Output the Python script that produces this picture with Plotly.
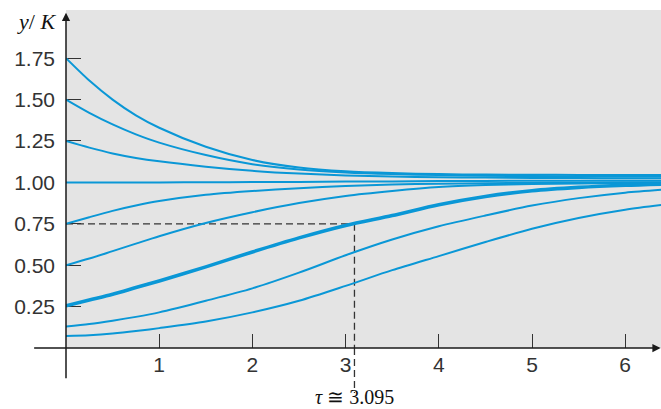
import plotly.graph_objects as go

t = [0, 0.25, 0.5, 0.75, 1, 1.5, 2, 2.5, 3, 3.5, 4, 4.5, 5, 5.5, 6, 6.4]

# y/K solution curves
y_175 = [1.75, 1.615, 1.50, 1.405, 1.33, 1.215, 1.135, 1.09, 1.067, 1.056, 1.05, 1.047, 1.046, 1.045, 1.045, 1.045]
y_150 = [1.50, 1.42, 1.35, 1.29, 1.24, 1.165, 1.11, 1.078, 1.06, 1.05, 1.044, 1.04, 1.038, 1.036, 1.035, 1.035]
y_125 = [1.25, 1.21, 1.175, 1.148, 1.127, 1.095, 1.07, 1.053, 1.042, 1.035, 1.031, 1.029, 1.027, 1.026, 1.025, 1.025]
y_100 = [1.0, 1.0, 1.0, 1.0, 1.0, 1.001, 1.002, 1.003, 1.005, 1.006, 1.008, 1.009, 1.01, 1.01, 1.01, 1.01]
y_075 = [0.75, 0.79, 0.828, 0.86, 0.887, 0.925, 0.948, 0.965, 0.978, 0.987, 0.992, 0.995, 0.997, 0.998, 0.999, 1.0]
y_050 = [0.50, 0.54, 0.585, 0.63, 0.675, 0.755, 0.82, 0.875, 0.918, 0.948, 0.972, 0.984, 0.99, 0.994, 0.997, 0.998]
y_025 = [0.255, 0.29, 0.325, 0.365, 0.405, 0.49, 0.58, 0.665, 0.74, 0.80, 0.865, 0.915, 0.95, 0.97, 0.983, 0.99]
y_013 = [0.13, 0.145, 0.165, 0.188, 0.215, 0.285, 0.36, 0.455, 0.56, 0.655, 0.735, 0.80, 0.86, 0.905, 0.938, 0.956]
y_007 = [0.072, 0.077, 0.087, 0.102, 0.12, 0.16, 0.215, 0.285, 0.375, 0.47, 0.555, 0.64, 0.72, 0.785, 0.835, 0.864]

thin_curves = [y_175, y_150, y_125, y_100, y_075, y_050, y_013, y_007]
thick_curve = y_025

x_ticks = [1, 2, 3, 4, 5, 6]
x_tick_labels = ["1", "2", "3", "4", "5", "6"]
y_ticks = [0.25, 0.5, 0.75, 1.0, 1.25, 1.5, 1.75]
y_tick_labels = ["0.25", "0.50", "0.75", "1.00", "1.25", "1.50", "1.75"]

tau = 3.095
tau_level = 0.75

BLUE = "#0a97d6"
AX = "#1a1a1a"

W, H = 661, 409
ML, MR, MT, MB = 66, 0, 10, 61
PW, PH = W - ML - MR, H - MT - MB


def px(xp):
    return (xp - ML) / PW


def py(yp):
    return (H - MB - yp) / PH


fig = go.Figure()
for ys in thin_curves:
    fig.add_trace(go.Scatter(x=t, y=ys, mode="lines",
                             line=dict(color=BLUE, width=2, shape="spline", smoothing=0.8),
                             hoverinfo="skip", showlegend=False))
fig.add_trace(go.Scatter(x=t, y=thick_curve, mode="lines",
                         line=dict(color=BLUE, width=3.6, shape="spline", smoothing=0.8),
                         hoverinfo="skip", showlegend=False))

# dashed guide lines for tau
fig.add_shape(type="line", xref="x", yref="y", x0=0, x1=tau, y0=tau_level, y1=tau_level,
              line=dict(color="#333333", width=1.3, dash="7px,4px"), layer="below")
fig.add_shape(type="line", xref="x", yref="y", x0=tau, x1=tau, y0=tau_level, y1=0,
              line=dict(color="#333333", width=1.3, dash="7px,4px"), layer="below")
fig.add_shape(type="line", xref="x", yref="paper", x0=tau, x1=tau, y0=0, y1=py(393),
              line=dict(color="#333333", width=1.3, dash="7px,4px"))

# axes with arrows (extend past the origin)
fig.add_annotation(x=6.38, y=0, xref="x", yref="y", ax=-628, ay=0, axref="pixel", ayref="pixel",
                   text="", showarrow=True, arrowhead=2, arrowsize=1.1, arrowwidth=1.5,
                   arrowcolor=AX, standoff=0)
fig.add_annotation(x=0, y=2.025, xref="x", yref="y", ax=0, ay=367, axref="pixel", ayref="pixel",
                   text="", showarrow=True, arrowhead=2, arrowsize=1.1, arrowwidth=1.5,
                   arrowcolor=AX, standoff=0)

fig.add_annotation(x=px(36), y=py(21), xref="paper", yref="paper", text="<i>y</i>/ <i>K</i>",
                   showarrow=False, xanchor="center", yanchor="middle",
                   font=dict(family="Liberation Serif", size=22, color="#111"))
fig.add_annotation(x=tau, y=py(397), xref="x", yref="paper", text="<i>τ</i> ≅ 3.095",
                   showarrow=False, xanchor="center", yanchor="middle",
                   font=dict(family="Liberation Serif", size=20, color="#111"))

fig.update_layout(
    width=W, height=H,
    margin=dict(l=ML, r=MR, t=MT, b=MB, autoexpand=False),
    paper_bgcolor="white", plot_bgcolor="#e4e4e4",
    font=dict(family="Liberation Sans", size=21, color="#333333"),
    xaxis=dict(range=[0, 6.384], tickvals=x_ticks, ticktext=x_tick_labels,
               ticks="inside", ticklen=14, tickwidth=1.3, tickcolor="#333",
               showgrid=False, zeroline=False, showline=False, layer="below traces",
               ticklabelstandoff=2, automargin=False, fixedrange=True),
    yaxis=dict(range=[0, 2.041], tickvals=y_ticks, ticktext=y_tick_labels,
               ticks="inside", ticklen=15, tickwidth=1.3, tickcolor="#333",
               showgrid=False, zeroline=False, showline=False, layer="below traces",
               ticklabelstandoff=10, automargin=False, fixedrange=True),
)

fig.write_html("out.html", config={"displayModeBar": False},
               post_script="document.body.style.margin='0';document.body.style.overflow='hidden';")
